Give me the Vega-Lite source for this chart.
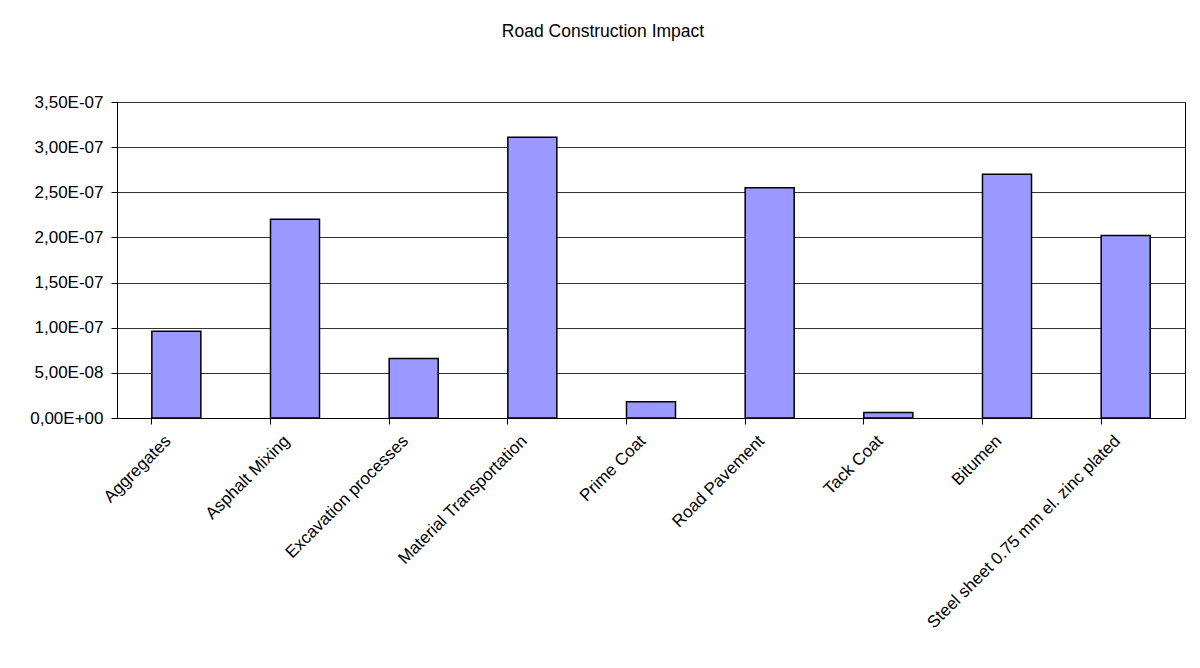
{
  "$schema": "https://vega.github.io/schema/vega-lite/v6.json",
  "width": 1068,
  "height": 316,
  "autosize": {"type": "none"},
  "padding": {"left": 117, "top": 102, "right": 15, "bottom": 250},
  "background": "white",
  "title": {
    "text": "Road Construction Impact",
    "font": "Liberation Sans",
    "fontSize": 17.5,
    "fontWeight": "normal",
    "color": "black",
    "anchor": "middle",
    "frame": "group",
    "baseline": "alphabetic",
    "dx": -48,
    "offset": 39
  },
  "data": {
    "values": [
      {"process": "Aggregates", "impact": 9.6e-8},
      {"process": "Asphalt Mixing", "impact": 2.2e-7},
      {"process": "Excavation processes", "impact": 6.6e-8},
      {"process": "Material Transportation", "impact": 3.11e-7},
      {"process": "Prime Coat", "impact": 1.8e-8},
      {"process": "Road Pavement", "impact": 2.55e-7},
      {"process": "Tack Coat", "impact": 6e-9},
      {"process": "Bitumen", "impact": 2.7e-7},
      {"process": "Steel sheet 0.75 mm el. zinc plated", "impact": 2.02e-7}
    ]
  },
  "mark": {"type": "bar", "fill": "#9999FF", "stroke": "black", "strokeWidth": 1.5},
  "encoding": {
    "x": {
      "field": "process",
      "type": "nominal",
      "sort": null,
      "scale": {"paddingInner": 0.587, "paddingOuter": 0.2935},
      "axis": {
        "title": null,
        "labelAngle": -45,
        "labelAlign": "right",
        "labelBaseline": "middle",
        "labelFont": "Liberation Sans",
        "labelFontSize": 17,
        "labelColor": "black",
        "labelPadding": 14,
        "labelOffset": -8,
        "labelLimit": 400,
        "bandPosition": 0,
        "tickSize": 6,
        "tickColor": "black",
        "domainColor": "black",
        "grid": false
      }
    },
    "y": {
      "field": "impact",
      "type": "quantitative",
      "scale": {"domain": [0, 3.5e-7], "nice": false},
      "axis": {
        "title": null,
        "values": [0, 5e-8, 1e-7, 1.5e-7, 2e-7, 2.5e-7, 3e-7, 3.5e-7],
        "labelExpr": "replace(replace(replace(format(datum.value, '.2e'), '.', ','), 'e-', 'E-0'), 'e+', 'E+0')",
        "labelFont": "Liberation Sans",
        "labelFontSize": 17,
        "labelColor": "black",
        "labelPadding": 8,
        "tickSize": 6,
        "tickColor": "black",
        "domainColor": "black",
        "grid": true,
        "gridColor": "#333333",
        "gridWidth": 1
      }
    }
  },
  "config": {
    "view": {"stroke": "black", "strokeWidth": 1}
  }
}
